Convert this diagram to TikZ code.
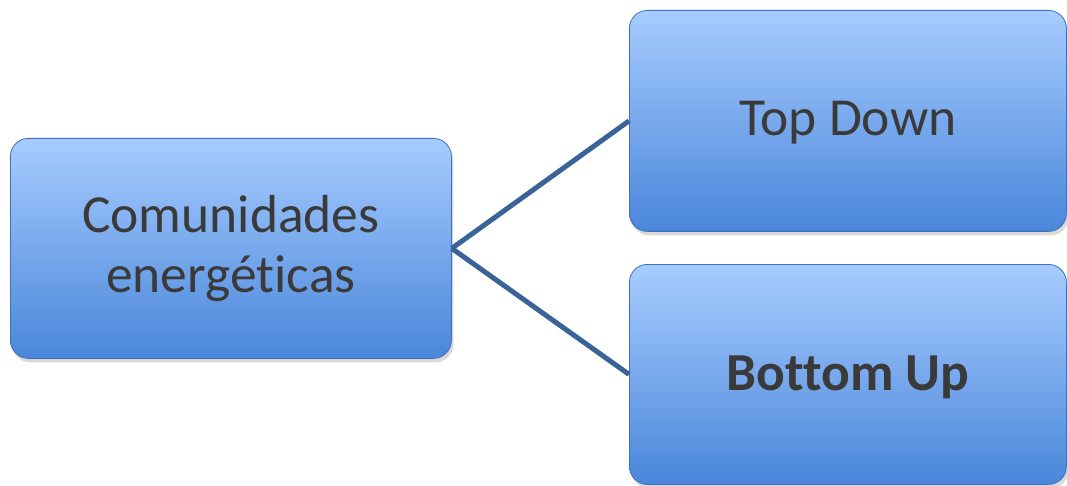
\documentclass[tikz,border=0pt]{standalone}
\usepackage{fontspec}
\setmainfont{Carlito}[Ligatures=NoCommon]
\usetikzlibrary{shadows}
\definecolor{boxtop}{HTML}{A7CCFF}
\definecolor{boxbot}{HTML}{4A86DA}
\definecolor{boxedge}{HTML}{3F70B8}
\definecolor{linkcol}{HTML}{3A6497}
\definecolor{txt}{HTML}{3A3A3A}
\begin{document}
\begin{tikzpicture}[x=1pt,y=-1pt,
  card/.style={rounded corners=18pt, top color=boxtop, bottom color=boxbot,
    draw=boxedge, line width=0.8pt,
    drop shadow={shadow xshift=2pt, shadow yshift=-4pt, opacity=0.25, fill=black!60}},
  label/.style={text=txt, font=\fontsize{53.5}{60}\selectfont, align=center},
  link/.style={draw=linkcol, line width=5pt}]
  \useasboundingbox (0,0) rectangle (1067,486);

  % three boxes
  \node[card, minimum width=441pt, minimum height=220pt, anchor=north west] (root) at (10,138) {};
  \node[card, minimum width=437pt, minimum height=221pt, anchor=north west] (top) at (629,10) {};
  \node[card, minimum width=437pt, minimum height=220pt, anchor=north west] (bot) at (629,264) {};

  % connectors
  \draw[link] (root.east) -- (top.west);
  \draw[link] (root.east) -- (bot.west);

  % labels
  \node[label] (rootlbl) at ([yshift=0pt]root.center) {Comunidades\\energéticas};
  \node[label] (toplbl) at ([yshift=-2pt]top.center) {Top Down};
  \node[label, font=\fontsize{53.5}{60}\selectfont\bfseries] (botlbl) at ([yshift=-3pt]bot.center) {Bottom Up};
\end{tikzpicture}
\end{document}
